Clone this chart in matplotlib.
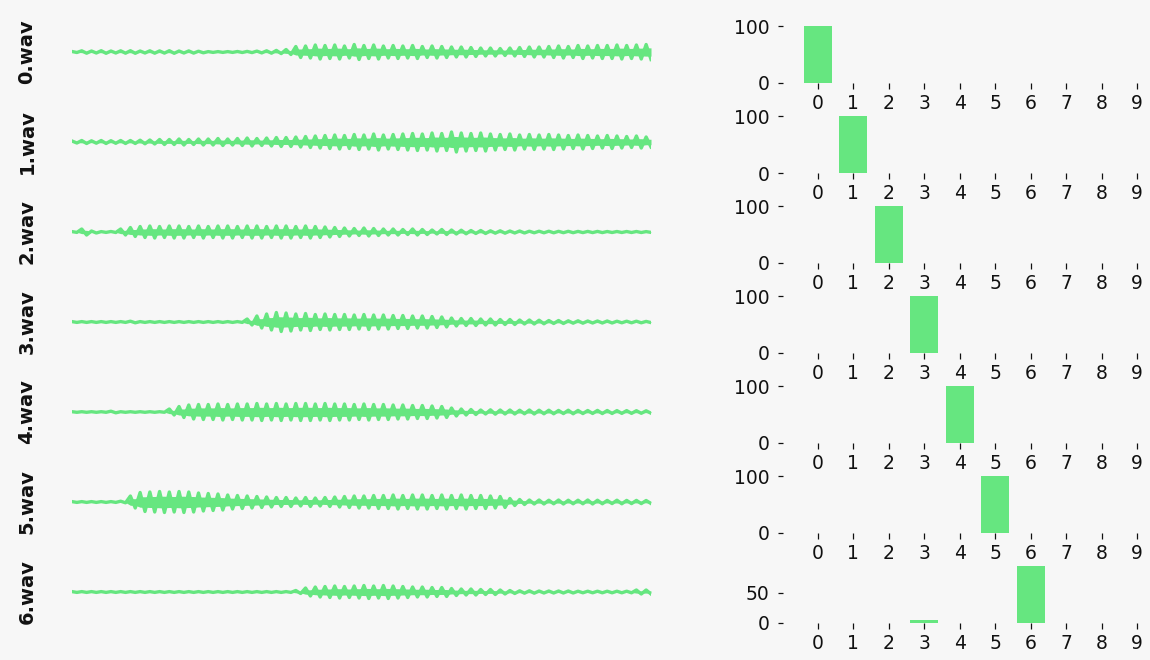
import numpy as np
import matplotlib
matplotlib.use("Agg")
import matplotlib.pyplot as plt
from matplotlib.ticker import MaxNLocator

# file names (one row each)
files = ["0.wav", "1.wav", "2.wav", "3.wav", "4.wav", "5.wav", "6.wav"]
digits = ["0", "1", "2", "3", "4", "5", "6", "7", "8", "9"]

# waveform envelopes (peak size, 60 cycles per clip)
env_0 = [0.5, 1.2, 1.0, 1.3, 1.0, 1.2, 1.3, 1.0, 1.2, 1.1,
         1.3, 1.0, 1.1, 0.8, 0.4, 0.4, 0.4, 0.5, 0.6, 0.9,
         1.2, 1.6, 2.5, 5.5, 6.0, 7.0, 6.5, 7.0, 6.0, 7.5,
         6.5, 7.0, 6.0, 6.5, 6.0, 6.5, 5.5, 6.0, 5.5, 5.0,
         5.0, 4.5, 4.0, 4.0, 3.5, 4.0, 4.5, 5.0, 5.0, 5.5,
         6.0, 5.5, 6.5, 6.0, 6.5, 6.5, 7.0, 6.5, 7.0, 7.5]
env_1 = [1.0, 1.5, 1.2, 1.5, 1.3, 1.5, 1.5, 1.8, 2.0, 2.5,
         2.5, 3.0, 2.5, 3.0, 3.0, 3.5, 3.0, 3.5, 4.0, 3.5,
         4.0, 4.5, 4.5, 5.0, 5.5, 6.0, 6.5, 7.0, 6.5, 7.5,
         7.0, 8.0, 7.0, 7.5, 8.0, 8.5, 8.0, 9.0, 8.5, 10.0,
         9.0, 8.5, 9.0, 8.0, 7.5, 8.0, 7.0, 7.5, 7.0, 7.5,
         7.0, 6.5, 7.0, 6.5, 6.0, 6.5, 6.0, 5.5, 6.0, 5.0]
env_2 = [0.4, 3.0, 1.0, 0.4, 0.5, 3.0, 4.5, 5.5, 6.0, 5.5,
         6.0, 6.0, 5.5, 6.0, 5.5, 6.0, 6.0, 5.5, 6.0, 6.0,
         5.5, 6.0, 6.0, 5.5, 6.0, 5.5, 5.0, 4.5, 4.0, 3.5,
         4.0, 3.5, 3.0, 3.0, 2.5, 3.0, 2.5, 2.0, 2.5, 2.0,
         1.8, 1.5, 1.5, 1.2, 1.2, 1.0, 1.0, 0.8, 0.8, 0.8,
         0.7, 0.7, 0.6, 0.6, 0.6, 0.5, 0.5, 0.5, 0.5, 0.4]
env_3 = [0.4, 0.4, 0.4, 0.4, 0.4, 0.4, 0.8, 0.4, 0.4, 0.4,
         0.4, 0.4, 0.4, 0.4, 0.4, 0.4, 0.4, 0.4, 3.0, 6.0,
         8.0, 9.5, 9.0, 8.0, 8.5, 7.5, 8.0, 7.5, 7.5, 7.0,
         7.5, 7.0, 7.0, 6.5, 6.5, 6.0, 6.0, 5.5, 5.0, 4.0,
         3.5, 3.5, 3.0, 3.0, 2.5, 2.5, 2.0, 2.0, 1.8, 1.5,
         1.5, 1.2, 1.2, 1.0, 1.0, 1.0, 0.8, 0.8, 0.8, 0.6]
env_4 = [0.3, 0.3, 0.3, 0.3, 0.8, 0.3, 0.3, 0.3, 0.3, 0.3,
         3.0, 5.5, 7.0, 7.5, 7.5, 8.0, 7.5, 8.0, 8.0, 8.5,
         8.0, 8.5, 8.0, 8.5, 8.5, 8.0, 8.5, 8.0, 8.0, 7.5,
         8.0, 7.5, 7.5, 7.0, 7.0, 6.5, 6.5, 6.0, 5.5, 4.0,
         3.0, 2.5, 2.0, 2.2, 2.0, 2.0, 1.8, 2.0, 1.8, 1.8,
         1.6, 1.8, 1.6, 1.5, 1.6, 1.5, 1.4, 1.4, 1.3, 1.2]
env_5 = [0.4, 0.4, 0.4, 0.4, 0.4, 0.8, 6.0, 9.5, 10.0, 10.5,
         10.0, 10.5, 10.0, 9.0, 8.5, 8.0, 7.0, 6.5, 6.0, 5.5,
         5.0, 4.5, 4.5, 4.0, 4.5, 4.0, 4.5, 5.0, 5.5, 6.0,
         6.0, 6.5, 6.5, 7.0, 6.5, 7.0, 7.0, 6.5, 7.0, 6.5,
         7.0, 6.5, 6.5, 6.0, 5.5, 3.5, 2.5, 2.0, 2.0, 1.8,
         2.0, 1.8, 1.8, 2.0, 1.8, 1.6, 1.8, 1.6, 1.6, 1.5]
env_6 = [0.4, 0.4, 0.4, 0.4, 0.4, 0.4, 0.4, 0.4, 0.4, 0.4,
         0.4, 0.4, 0.4, 0.4, 0.4, 0.4, 0.4, 0.4, 0.4, 0.4,
         0.4, 0.4, 0.4, 1.5, 4.0, 5.0, 5.5, 6.0, 5.5, 6.0,
         6.5, 6.0, 6.5, 6.0, 5.5, 5.0, 5.0, 4.5, 4.5, 3.5,
         3.0, 3.0, 2.5, 2.5, 2.0, 1.5, 1.2, 1.2, 1.0, 1.0,
         1.0, 1.0, 0.8, 0.8, 0.8, 0.8, 0.8, 0.8, 2.0, 2.0]

# predicted scores per clip (percent)
scores_0 = [100, 0, 0, 0, 0, 0, 0, 0, 0, 0]
scores_1 = [0, 100, 0, 0, 0, 0, 0, 0, 0, 0]
scores_2 = [0, 0, 100, 0, 0, 0, 0, 0, 0, 0]
scores_3 = [0, 0, 0, 100, 0, 0, 0, 0, 0, 0]
scores_4 = [0, 0, 0, 0, 100, 0, 0, 0, 0, 0]
scores_5 = [0, 0, 0, 0, 0, 100, 0, 0, 0, 0]
scores_6 = [0, 0, 0, 5, 0, 0, 95, 0, 0, 0]

envelopes = [env_0, env_1, env_2, env_3, env_4, env_5, env_6]
scores = [scores_0, scores_1, scores_2, scores_3, scores_4, scores_5, scores_6]

BG = "#f7f7f7"
GREEN = "#66e680"
W, H = 1150.0, 660.0

fig = plt.figure(figsize=(11.5, 6.6), dpi=100, facecolor=BG)

for i in range(len(files)):
    yc = 52 + 90 * i

    ### waveform: solid core + peaks
    ax = fig.add_axes([72 / W, 1 - (yc + 42) / H, 579 / W, 84 / H], facecolor=BG)
    a = np.asarray(envelopes[i])
    y = np.column_stack((a, -a)).ravel()
    x = np.arange(len(y))
    core = np.repeat(a, 2) * 0.55
    ax.fill_between(x, -core, core, color=GREEN, lw=0)
    ax.plot(x, y, color=GREEN, lw=2.4, solid_joinstyle="round")
    ax.set_xlim(0, len(y) - 1)
    ax.set_ylim(-42, 42)
    ax.axis("off")
    fig.text(27 / W, 1 - yc / H, files[i], rotation=90, ha="center", va="center",
             fontsize=14, fontweight="bold", color="#111111")

    ### scores
    bottom = 83 + 90 * i
    bx = fig.add_axes([800 / W, 1 - bottom / H, 355 / W, 59.85 / H], facecolor=BG)
    bx.bar(np.arange(len(digits)), scores[i], width=0.8, color=GREEN)
    bx.set_xlim(-0.5, 9.5)
    bx.set_ylim(0, max(scores[i]) * 1.05)
    bx.set_xticks(np.arange(len(digits)))
    bx.set_xticklabels(digits)
    bx.yaxis.set_major_locator(MaxNLocator(nbins=2, steps=[1, 5, 10]))
    for s in bx.spines.values():
        s.set_visible(False)
    bx.spines["left"].set_position(("outward", 12.2))
    bx.tick_params(axis="x", direction="out", length=4.3, width=0.9, pad=3.5,
                   labelsize=13.5, colors="#111111")
    bx.tick_params(axis="y", direction="out", length=3.6, width=0.9, pad=6,
                   labelsize=13.5, colors="#111111")

fig.savefig("out.png", dpi=100, facecolor=BG)
